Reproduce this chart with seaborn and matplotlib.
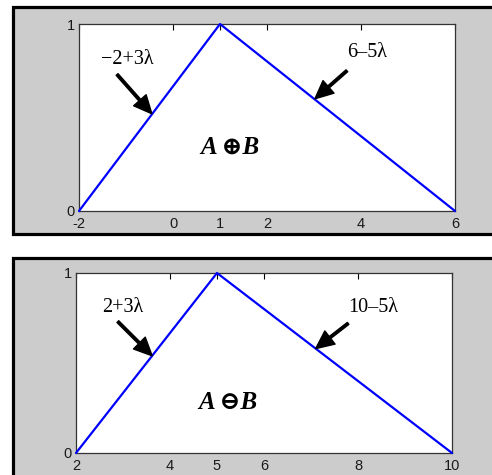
import matplotlib
matplotlib.use("Agg")
import matplotlib.pyplot as plt
from matplotlib.patches import Rectangle
import seaborn as sns
import pandas as pd

# Triangular fuzzy numbers: sum and difference
sum_x = [-2, 1, 6]
diff_x = [2, 5, 10]
membership = [0, 1, 0]

sum_ticks = [-2, 0, 1, 2, 4, 6]
diff_ticks = [2, 4, 5, 6, 8, 10]

sum_left_label = "\u22122+3\u03bb"
sum_right_label = "6\u20135\u03bb"
diff_left_label = "2+3\u03bb"
diff_right_label = "10\u20135\u03bb"
sum_title = "A \u2295B"
diff_title = "A \u2296B"

sns.set_theme(style="white")
plt.rcParams["font.family"] = ["Liberation Sans", "DejaVu Sans"]
plt.rcParams["axes.unicode_minus"] = False

W, H = 492, 475
fig = plt.figure(figsize=(W / 100, H / 100), dpi=100)
fig.patch.set_facecolor("white")


def px_rect(x0, y0, x1, y1):
    """Rectangle in pixel coords measured from the top-left corner."""
    return [x0 / W, 1 - y1 / H, (x1 - x0) / W, (y1 - y0) / H]


# grey framed panels behind each plot
for (y0, y1) in [(6.5, 233.5), (257.5, 490)]:
    l, b, w, h = px_rect(12.5, y0, 500, y1)
    fig.patches.append(Rectangle((l, b), w, h, transform=fig.transFigure,
                                 facecolor="#cccccc", edgecolor="black",
                                 linewidth=2.3, zorder=-5))

ax1 = fig.add_axes(px_rect(79, 24, 455, 211))
ax2 = fig.add_axes(px_rect(76, 273, 452, 453))

serif = ["Liberation Serif", "DejaVu Serif"]


def draw(ax, xs, ticks, left_lab, right_lab, title, pos):
    df = pd.DataFrame({"x": xs, "mu": membership})
    sns.lineplot(data=df, x="x", y="mu", ax=ax, color="#0000ff",
                 linewidth=1.6, clip_on=False, zorder=3)
    ax.set_xlim(xs[0], xs[-1])
    ax.set_ylim(0, 1)
    ax.set_xticks(ticks)
    ax.set_yticks([0, 1])
    ax.set_xlabel("")
    ax.set_ylabel("")
    ax.set_facecolor("white")
    ax.tick_params(direction="in", length=4, width=0.8, labelsize=10.5,
                   colors="black", top=True, right=False,
                   labelcolor="#1a1a1a")
    ax.tick_params(axis="x", pad=4.5)
    ax.tick_params(axis="y", pad=3)
    for s in ax.spines.values():
        s.set_visible(True)
        s.set_color("#333333")
        s.set_linewidth(0.9)
    arrow = dict(facecolor="black", edgecolor="black", width=1.8,
                 headwidth=12, headlength=13, shrink=0)
    (lt, lxy, ltip, rt, rxy, rtip, cxy) = pos
    ax.annotate("", xy=ltip, xytext=lxy, arrowprops=arrow, zorder=4)
    ax.annotate("", xy=rtip, xytext=rxy, arrowprops=arrow, zorder=4)
    ax.text(lt[0], lt[1], left_lab, family=serif, fontsize=14.5,
            color="black", ha="center", va="center")
    ax.text(rt[0], rt[1], right_lab, family=serif, fontsize=14.5,
            color="black", ha="center", va="center")
    ax.text(cxy[0], cxy[1], title, family=serif, fontsize=18,
            color="black", fontweight="bold", fontstyle="italic",
            ha="center", va="center")


draw(ax1, sum_x, sum_ticks, sum_left_label, sum_right_label, sum_title,
     ((-0.98, 0.81), (-1.19, 0.73), (-0.45, 0.52),
      (4.13, 0.85), (3.70, 0.75), (3.02, 0.60), (1.21, 0.34)))
draw(ax2, diff_x, diff_ticks, diff_left_label, diff_right_label, diff_title,
     ((3.0, 0.81), (2.89, 0.73), (3.62, 0.54),
      (8.32, 0.81), (7.79, 0.72), (7.10, 0.58), (5.23, 0.28)))

fig.savefig("out.png", dpi=100, facecolor="white")
